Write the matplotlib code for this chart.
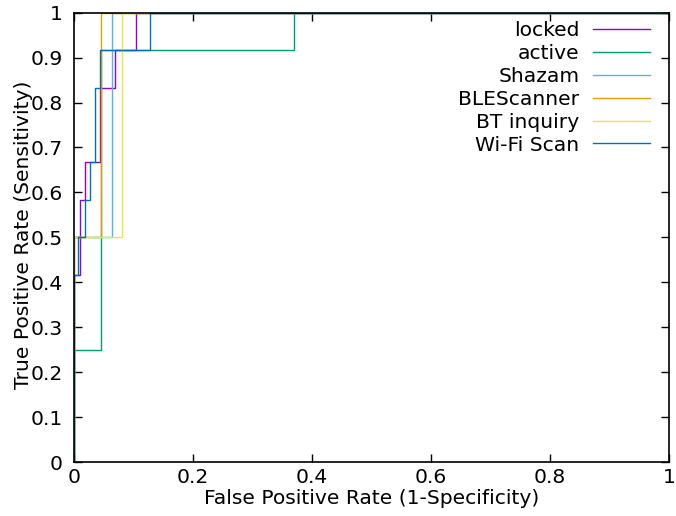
import matplotlib
matplotlib.use('Agg')
import matplotlib.pyplot as plt
from matplotlib.ticker import FuncFormatter

# ROC vertices (fpr, tpr), drawn with steps-post
labels = ['locked', 'active', 'Shazam', 'BLEScanner', 'BT inquiry', 'Wi-Fi Scan']
colors = ['#9400d3', '#009e73', '#56b4e9', '#e69f00', '#f0e442', '#0072b2']

fpr_locked = [0, 0, 0.0096, 0.018, 0.043, 0.069, 0.104, 1]
tpr_locked = [0, 0.417, 0.583, 0.667, 0.833, 0.917, 1, 1]
fpr_active = [0, 0, 0.045, 0.370, 1]
tpr_active = [0, 0.25, 0.917, 1, 1]
fpr_shazam = [0, 0, 0.064, 1]
tpr_shazam = [0, 0.5, 1, 1]
fpr_ble = [0, 0, 0.045, 1]
tpr_ble = [0, 0.5, 1, 1]
fpr_bt = [0, 0, 0.080, 1]
tpr_bt = [0, 0.5, 1, 1]
fpr_wifi = [0, 0, 0.0067, 0.018, 0.027, 0.036, 0.044, 0.127, 1]
tpr_wifi = [0, 0.417, 0.5, 0.583, 0.667, 0.833, 0.917, 1, 1]

series = [(fpr_locked, tpr_locked), (fpr_active, tpr_active),
          (fpr_shazam, tpr_shazam), (fpr_ble, tpr_ble),
          (fpr_bt, tpr_bt), (fpr_wifi, tpr_wifi)]

FS = 14.6
plt.rcParams['font.family'] = ['DejaVu Sans']
fig = plt.figure(figsize=(6.76, 5.16), dpi=100)
ax = fig.add_axes([74/676, 1-462/516, 595/676, 449.3/516])

for (x, y), lab, c in zip(series, labels, colors):
    ax.plot(x, y, drawstyle='steps-post', color=c, lw=1.0, label=lab)

ax.set_xlim(0, 1)
ax.set_ylim(0, 1)
ax.set_xticks([0, 0.2, 0.4, 0.6, 0.8, 1])
ax.set_yticks([i/10 for i in range(11)])
fmt = FuncFormatter(lambda v, p: '%g' % round(v, 2))
ax.xaxis.set_major_formatter(fmt)
ax.yaxis.set_major_formatter(fmt)
ax.tick_params(direction='in', length=6, width=1, top=True, right=True,
               labelsize=FS)
ax.tick_params(axis='x', pad=4)
ax.tick_params(axis='y', pad=8)
for s in ax.spines.values():
    s.set_linewidth(1.2)

ax.set_xlabel('False Positive Rate (1-Specificity)', fontsize=FS, labelpad=2)
ax.set_ylabel('True Positive Rate (Sensitivity)', fontsize=FS)
ax.yaxis.set_label_coords(-0.069, 0.505)

ax.legend(loc='upper right', bbox_to_anchor=(0.968, 0.981), frameon=False,
          markerfirst=False, fontsize=FS, handlelength=2.83,
          handletextpad=0.65, labelspacing=0.19, borderaxespad=0,
          borderpad=0)

fig.savefig('out.png', dpi=100)
